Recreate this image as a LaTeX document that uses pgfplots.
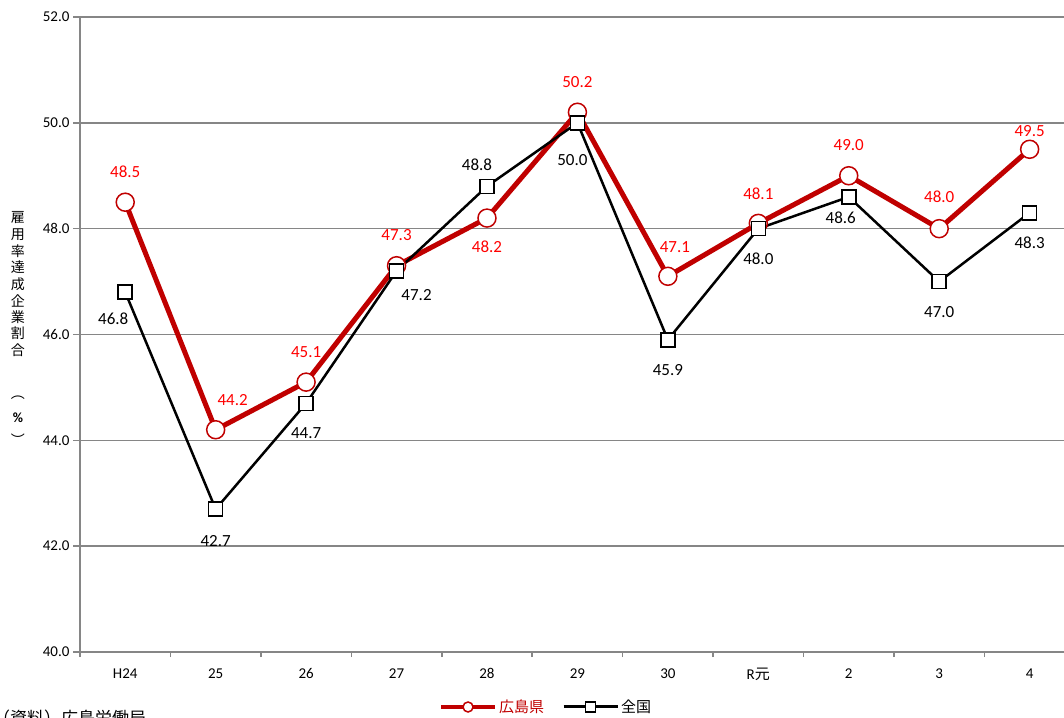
\documentclass[border=0pt]{standalone}
\usepackage{pgfplots}
\pgfplotsset{compat=1.18}
\usepackage{pgfplotstable}
\usepackage{fontspec}
\setmainfont{Carlito}
\newfontfamily\jp{Noto Sans CJK JP}
\definecolor{hr}{RGB}{192,0,0}
\definecolor{lab}{RGB}{255,0,0}
\definecolor{gg}{RGB}{134,134,134}

\pgfplotstableread{
x y dx dy lab
0 48.5 0 30 48.5
1 44.2 17 30 44.2
2 45.1 0 30 45.1
3 47.3 0 31 47.3
4 48.2 0 -29 48.2
5 50.2 0 30 50.2
6 47.1 7 29 47.1
7 48.1 0 30 48.1
8 49.0 0 31 49.0
9 48.0 0 32 48.0
10 49.5 0 18 49.5
}\hiro

\pgfplotstableread{
x y dx dy lab
0 46.8 -12 -27 46.8
1 42.7 0 -32 42.7
2 44.7 0 -30 44.7
3 47.2 20 -24 47.2
4 48.8 -10 22 48.8
5 50.0 -5 -37 50.0
6 45.9 0 -30 45.9
7 48.0 0 -30 48.0
8 48.6 -8 -21 48.6
9 47.0 0 -30 47.0
10 48.3 0 -30 48.3
}\zenkoku

\begin{document}
\begin{tikzpicture}
\useasboundingbox (-80pt,-65pt) rectangle (984pt,652pt);
\clip (-80pt,-65pt) rectangle (984pt,652pt);
\begin{axis}[
  scale only axis, width=984pt, height=635pt,
  xmin=-0.5, xmax=10.38, ymin=40, ymax=52,
  axis x line*=bottom, axis y line*=left,
  axis line style={gg, line width=1.5pt, -},
  ytick={40,42,...,52},
  ymajorgrids, grid style={gg, line width=1.5pt},
  yticklabel={\pgfmathprintnumber[fixed,fixed zerofill,precision=1]{\tick}},
  /pgf/number format/assume math mode=true,
  tick align=outside,
  major tick length=7pt, minor tick length=5pt,
  major y tick style={gg, line width=1.5pt},
  major x tick style={draw=none},
  minor x tick style={gg, line width=1.5pt},
  xtick={0,...,10},
  minor xtick={-0.5,0.5,...,9.5},
  xticklabels={H24,25,26,27,28,29,30,R{\jp 元},2,3,4},
  xticklabel style={font=\fontsize{15}{15}\selectfont, yshift=-6pt},
  yticklabel style={font=\fontsize{15}{15}\selectfont},
  legend image code/.code={\draw[mark repeat=2,mark phase=2,#1] plot coordinates {(0pt,0pt)(27pt,0pt)(54pt,0pt)};},
  legend style={at={(0.4736,-0.0866)}, anchor=center, draw=none, fill=none,
    legend columns=2, font=\jp\fontsize{15}{15}\selectfont,
    /tikz/every even column/.append style={column sep=16pt}},
]
\addplot[hr, line width=5pt, mark=*, mark size=9pt,
  mark options={fill=white, draw=hr, line width=1.5pt},
  forget plot,
  visualization depends on={\thisrow{dx} \as \dx},
  visualization depends on={\thisrow{dy} \as \dy},
  nodes near coords, point meta=explicit symbolic,
  every node near coord/.append style={anchor=center, xshift=\dx pt, yshift=\dy pt, text=lab, font=\fontsize{17}{17}\selectfont},
] table[x=x, y=y, meta=lab] {\hiro};
\addplot[black, line width=2.5pt, mark=square*, mark size=7pt,
  mark options={fill=white, draw=black, line width=1.5pt},
  forget plot,
  visualization depends on={\thisrow{dx} \as \dx},
  visualization depends on={\thisrow{dy} \as \dy},
  nodes near coords, point meta=explicit symbolic,
  every node near coord/.append style={anchor=center, xshift=\dx pt, yshift=\dy pt, text=black, font=\fontsize{17}{17}\selectfont},
] table[x=x, y=y, meta=lab] {\zenkoku};
\addlegendimage{hr, line width=4pt, mark=*, mark size=5pt, mark options={fill=white, draw=hr, line width=1.5pt}}
\addlegendentry{\textcolor{hr}{広島県}}
\addlegendimage{black, line width=3pt, mark=square*, mark size=5pt, mark options={fill=white, draw=black, line width=1.5pt}}
\addlegendentry{全国}
\end{axis}
\foreach \c [count=\i from 0] in {雇,用,率,達,成,企,業,割,合}
  \node[font=\jp\fontsize{14}{14}\selectfont, inner sep=0pt] at (-62pt,{434pt-16.5pt*\i}) {\c};
\node[font=\jp\fontsize{14}{14}\selectfont, inner sep=0pt] at (-62pt,254pt) {︵};
\node[font=\bfseries\fontsize{14}{14}\selectfont, inner sep=0pt] at (-62pt,234pt) {\%};
\node[font=\jp\fontsize{14}{14}\selectfont, inner sep=0pt] at (-62pt,212pt) {︶};
\node[font=\jp\fontsize{17}{17}\selectfont, inner sep=0pt, anchor=west] at (-87pt,-66pt) {（資料）広島労働局};
\end{tikzpicture}
\end{document}
